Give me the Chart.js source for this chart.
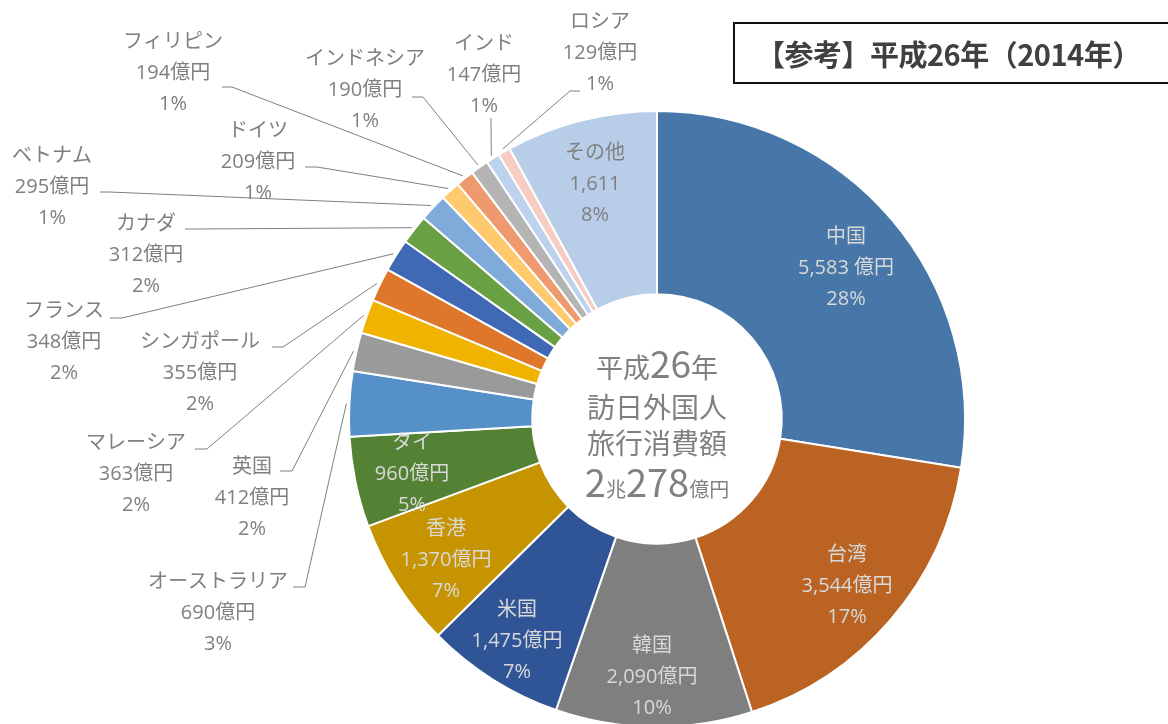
<!DOCTYPE html>
<html lang="ja">
<head>
<meta charset="utf-8">
<script src="https://cdn.jsdelivr.net/npm/chart.js@4.4.1/dist/chart.umd.min.js"></script>
<style>
  html, body { margin: 0; padding: 0; background: #fff; overflow: hidden; }
  #wrap { position: absolute; left: 0; top: 0; width: 1168px; height: 740px; }
  #title {
    position: absolute; left: 733px; top: 22px; width: 470px; height: 58px;
    border: 2px solid #111; box-sizing: content-box;
    font: bold 29px "Noto Sans CJK JP", sans-serif; color: #404040;
    line-height: 58px; padding-left: 21px; white-space: nowrap; letter-spacing: -0.5px;
  }
</style>
</head>
<body>
<div id="wrap"><canvas id="c"></canvas></div>
<div id="title">【参考】平成26年（2014年）</div>
<script>
// 平成26年 訪日外国人旅行消費額（国・地域別, 億円）
const countries = ["中国", "台湾", "韓国", "米国", "香港", "タイ", "オーストラリア", "英国", "マレーシア",
    "シンガポール", "フランス", "カナダ", "ベトナム", "ドイツ", "フィリピン", "インドネシア", "インド", "ロシア", "その他"];
const spending = [5583, 3544, 2090, 1475, 1370, 960, 690, 412, 363, 355, 348, 312, 295, 209, 194, 190, 147, 129, 1611];
const units = [" 億円", "億円", "億円", "億円", "億円", "億円", "億円", "億円", "億円",
    "億円", "億円", "億円", "億円", "億円", "億円", "億円", "億円", "億円", ""];
const sliceColors = ["#4677A8", "#BA6323", "#7F7F7F", "#2F5597", "#C69400", "#548235", "#5591C8", "#9A9A9A", "#F0B400",
    "#DE772C", "#3F68B5", "#68A043", "#7FAADA", "#FFC96D", "#EF9A6E", "#B4B4B4", "#BDD2EC", "#F7CCC3", "#B7CDE8"];

// label placement (first line centre) and leader elbows for the small slices
const LIGHT = "#D9D9D9", GREY = "#7F7F7F";
const labelLayout = [
    { x: 846, y: 235, c: LIGHT },
    { x: 847, y: 553, c: LIGHT },
    { x: 652, y: 644, c: LIGHT },
    { x: 517, y: 608, c: LIGHT },
    { x: 446, y: 527, c: LIGHT },
    { x: 412, y: 441, c: LIGHT },
    { x: 218, y: 580, c: GREY, lead: [293, 587, 305, 587] },
    { x: 252, y: 465, c: GREY, lead: [280, 471, 292, 471] },
    { x: 136, y: 441, c: GREY, lead: [195, 449, 207, 449] },
    { x: 200, y: 340, c: GREY, lead: [272, 347, 283, 347] },
    { x: 64, y: 309, c: GREY, lead: [110, 318, 122, 318] },
    { x: 146, y: 222, c: GREY, lead: [185, 229, 195, 229] },
    { x: 52, y: 154, c: GREY, lead: [100, 192, 110, 192] },
    { x: 258, y: 129, c: GREY, lead: [305, 167, 317, 167] },
    { x: 173, y: 40, c: GREY, lead: [222, 87, 232, 87] },
    { x: 365, y: 57, c: GREY, lead: [412, 97, 423, 97] },
    { x: 484, y: 42, c: GREY, lead: [491, 118, 491, 118] },
    { x: 600, y: 20, c: GREY, lead: [580, 91, 570, 91] },
    { x: 595, y: 151, c: GREY },
];

const total = spending.reduce((a, b) => a + b, 0);
const LINE = 31;
const LABEL_FONT = '20px "Open Sans", "Noto Sans CJK JP", sans-serif';

const sliceLabels = {
    id: "sliceLabels",
    afterDatasetsDraw(chart) {
        const ctx = chart.ctx;
        const arcs = chart.getDatasetMeta(0).data;
        ctx.save();
        ctx.textAlign = "center";
        ctx.textBaseline = "middle";
        ctx.font = LABEL_FONT;
        arcs.forEach((arc, i) => {
            const lay = labelLayout[i];
            const lines = [countries[i], spending[i].toLocaleString("en-US") + units[i],
                Math.round(spending[i] / total * 100) + "%"];
            ctx.fillStyle = lay.c;
            lines.forEach((t, k) => ctx.fillText(t, lay.x, lay.y + 2 + k * LINE));
            if (lay.lead) {
                const mid = (arc.startAngle + arc.endAngle) / 2;
                const r = arc.outerRadius + 3;
                ctx.strokeStyle = GREY;
                ctx.lineWidth = 1;
                ctx.beginPath();
                ctx.moveTo(lay.lead[0], lay.lead[1]);
                ctx.lineTo(lay.lead[2], lay.lead[3]);
                ctx.lineTo(arc.x + Math.cos(mid) * r, arc.y + Math.sin(mid) * r);
                ctx.stroke();
            }
        });
        ctx.restore();
    },
};

// mixed-size text in the hole
const centerText = {
    id: "centerText",
    afterDraw(chart) {
        const ctx = chart.ctx;
        const arc = chart.getDatasetMeta(0).data[0];
        const cx = arc.x, cy = arc.y;
        const rows = [
            { dy: -41, parts: [["平成", 27], ["26", 37], ["年", 27]] },
            { dy: -1, parts: [["訪日外国人", 28]] },
            { dy: 35, parts: [["旅行消費額", 28]] },
            { dy: 78, parts: [["2", 38], ["兆", 20], ["278", 38], ["億円", 20]] },
        ];
        ctx.save();
        ctx.fillStyle = "#808080";
        ctx.textBaseline = "alphabetic";
        ctx.textAlign = "left";
        rows.forEach((row) => {
            let w = 0;
            row.parts.forEach((p) => {
                ctx.font = p[1] + 'px "Noto Sans CJK JP", sans-serif';
                w += ctx.measureText(p[0]).width;
            });
            let x = cx - w / 2;
            row.parts.forEach((p) => {
                ctx.font = p[1] + 'px "Noto Sans CJK JP", sans-serif';
                ctx.fillText(p[0], x, cy + row.dy);
                x += ctx.measureText(p[0]).width;
            });
        });
        ctx.restore();
    },
};

new Chart(document.getElementById("c"), {
    type: "doughnut",
    data: {
        labels: countries,
        datasets: [{
            data: spending,
            backgroundColor: sliceColors,
            borderColor: "#ffffff",
            borderWidth: 2,
            hoverBorderWidth: 2,
        }],
    },
    options: {
        responsive: true,
        maintainAspectRatio: false,
        animation: false,
        cutout: "40.5%",
        layout: { padding: { top: 110, bottom: 12, left: 348, right: 202 } },
        plugins: { legend: { display: false }, tooltip: { enabled: false } },
    },
    plugins: [sliceLabels, centerText],
});
</script>
</body>
</html>
